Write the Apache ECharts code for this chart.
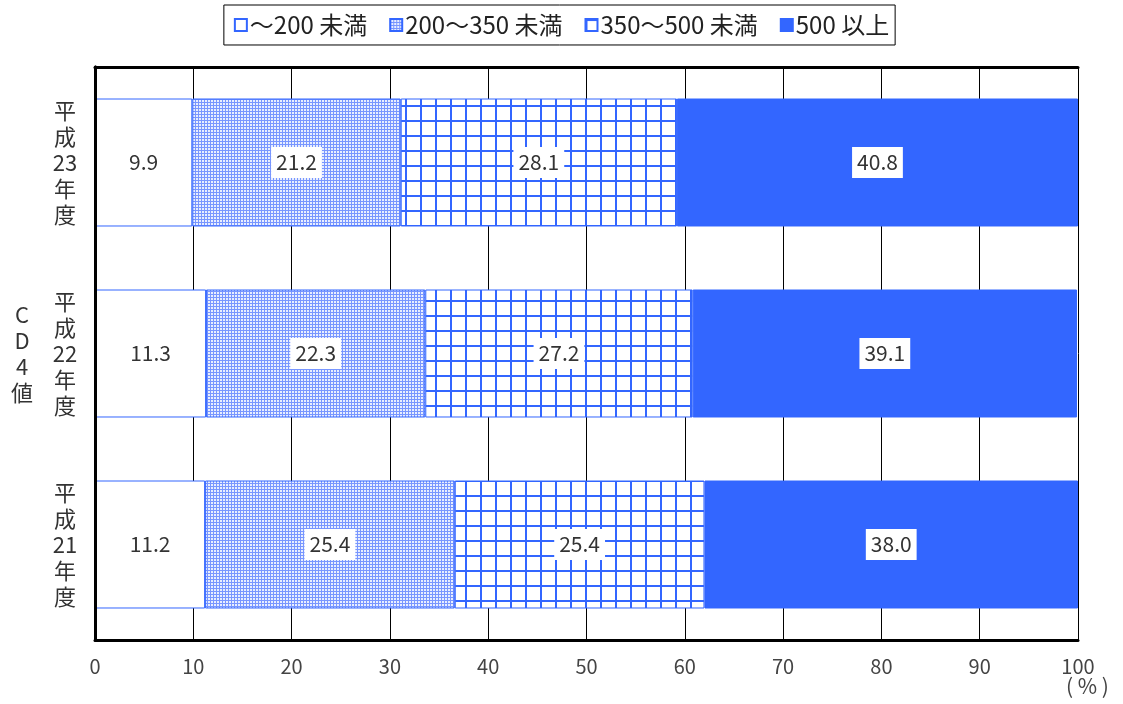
<!DOCTYPE html>
<html>
<head>
<meta charset="utf-8">
<script src="https://cdn.jsdelivr.net/npm/echarts@6/dist/echarts.min.js"></script>
<style>
  html, body { margin: 0; padding: 0; background: #fff; }
  #main { width: 1123px; height: 704px; }
</style>
</head>
<body>
<div id="main"></div>
<script>
// 下から順（カテゴリ軸は下から並ぶ）
var years = ['平\n成\n21\n年\n度', '平\n成\n22\n年\n度', '平\n成\n23\n年\n度'];
var seriesNames = ['～200 未満', '200～350 未満', '350～500 未満', '500 以上'];
var under200 = [11.2, 11.3, 9.9];
var from200 = [25.4, 22.3, 21.2];
var from350 = [25.4, 27.2, 28.1];
var over500 = [38.0, 39.1, 40.8];
var xTicks = [0, 100, 10];

var BLUE = '#3366ff';
var FONT = '"Noto Sans CJK JP", "Noto Sans", sans-serif';

// 網点パターン
function dotPattern() {
    var c = document.createElement('canvas');
    c.width = 3; c.height = 3;
    var ctx = c.getContext('2d');
    ctx.fillStyle = '#7896ff';
    ctx.fillRect(0, 0, 3, 3);
    ctx.fillStyle = '#e8eeff';
    ctx.fillRect(1, 1, 2, 2);
    return c;
}
// 格子パターン
function gridPattern() {
    var c = document.createElement('canvas');
    c.width = 15; c.height = 15;
    var ctx = c.getContext('2d');
    ctx.fillStyle = '#fff';
    ctx.fillRect(0, 0, 15, 15);
    ctx.fillStyle = BLUE;
    ctx.fillRect(0, 0, 15, 2);
    ctx.fillRect(0, 0, 2, 15);
    return c;
}

var fills = [
    '#ffffff',
    {image: dotPattern(), repeat: 'repeat'},
    {image: gridPattern(), repeat: 'repeat'},
    BLUE
];
var values = [under200, from200, from350, over500];

var labelStyle = {
    show: true,
    position: 'inside',
    color: '#333',
    fontFamily: FONT,
    fontSize: 21,
    backgroundColor: '#fff',
    padding: [6, 5, 4, 5],
    formatter: function (p) { return p.value.toFixed(1); }
};

var series = seriesNames.map(function (name, i) {
    return {
        name: name,
        type: 'bar',
        stack: 'total',
        barWidth: '67%',
        data: values[i],
        itemStyle: {color: fills[i], borderColor: BLUE, borderWidth: 1},
        label: labelStyle,
        emphasis: {disabled: true}
    };
});

var chart = echarts.init(document.getElementById('main'));
chart.setOption({
    animation: false,
    textStyle: {fontFamily: FONT},
    legend: {
        top: 5,
        left: 'center',
        data: seriesNames,
        icon: 'rect',
        itemWidth: 12,
        itemHeight: 12,
        itemGap: 22,
        borderColor: '#000',
        borderWidth: 1,
        padding: [8, 6, 8, 10],
        textStyle: {fontSize: 24, color: '#222', fontFamily: FONT, padding: [0, 0, 0, -2]}
    },
    grid: {left: 95, right: 45, top: 67, bottom: 64},
    xAxis: [{
        type: 'value',
        position: 'bottom',
        min: xTicks[0], max: xTicks[1], interval: xTicks[2],
        z: 10,
        axisLine: {show: true, lineStyle: {color: '#000', width: 3}},
        axisTick: {show: false},
        splitLine: {show: false},
        axisLabel: {margin: 16, fontSize: 20, color: '#444', fontFamily: FONT},
        name: '( % )',
        nameLocation: 'end',
        nameGap: -12,
        nameTextStyle: {fontSize: 21, color: '#444', fontFamily: FONT, verticalAlign: 'top', align: 'left', padding: [36, 0, 0, 0]}
    }, {
        type: 'value',
        position: 'top',
        min: xTicks[0], max: xTicks[1], interval: xTicks[2],
        axisLine: {show: true, lineStyle: {color: '#000', width: 3}},
        axisTick: {show: false},
        axisLabel: {show: false},
        splitLine: {show: true, lineStyle: {color: '#000', width: 1}}
    }],
    yAxis: [{
        type: 'category',
        position: 'left',
        data: years,
        z: 10,
        axisLine: {show: true, lineStyle: {color: '#000', width: 3}},
        axisTick: {show: false},
        axisLabel: {margin: 30, align: 'center', fontSize: 22, lineHeight: 26, color: '#333', fontFamily: FONT},
        name: 'C\nD\n4\n値',
        nameLocation: 'middle',
        nameRotate: 0,
        nameGap: 73,
        nameTextStyle: {fontSize: 22, lineHeight: 26, color: '#333', fontFamily: FONT, align: 'center'}
    }, {
        type: 'category',
        position: 'right',
        data: years,
        z: 10,
        axisLine: {show: true, lineStyle: {color: '#000', width: 3}},
        axisTick: {show: false},
        axisLabel: {show: false}
    }],
    series: series
});
</script>
</body>
</html>
